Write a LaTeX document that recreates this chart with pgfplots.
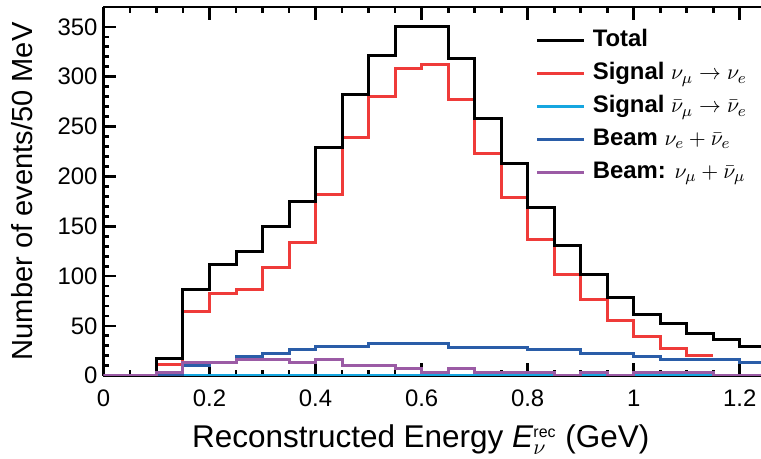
\documentclass[border=0pt]{standalone}
\usepackage{fontspec}
\setmainfont{Liberation Sans}
\usepackage{pgfplots}
\pgfplotsset{compat=1.18}
\definecolor{cTot}{RGB}{0,0,0}
\definecolor{cSig}{RGB}{239,59,57}
\definecolor{cAnti}{RGB}{22,166,224}
\definecolor{cBe}{RGB}{42,93,168}
\definecolor{cBm}{RGB}{155,91,165}
\newcommand{\lm}[1]{{\fontsize{11}{12}\selectfont$#1$}}
\begin{document}
\begin{tikzpicture}
\useasboundingbox (-51.75bp,-41.5bp) rectangle (329bp,188bp);
\begin{axis}[
  scale only axis,
  width=329bp, height=184.5bp,
  xmin=0, xmax=1.24, ymin=0, ymax=370,
  axis x line*=box, axis y line*=left,
  axis line style={line width=1.4bp},
  tick align=inside,
  every tick/.style={black, line width=1.4bp},
  major tick length=6.5bp, minor tick length=3bp,
  xtick={0,0.2,0.4,0.6,0.8,1,1.2},
  xticklabels={0,0.2,0.4,0.6,0.8,1,1.2},
  minor x tick num=3,
  ytick={0,50,100,150,200,250,300,350},
  minor y tick num=4,
  /pgf/number format/assume math mode=true,
  tick label style={font=\fontsize{12}{14}\selectfont},
  xticklabel style={yshift=-3.5bp},
  yticklabel style={xshift=0.5bp},
  xlabel={Reconstructed Energy \textit{E}$_{\nu}^{\mbox{\fontsize{8}{9}\selectfont rec}}$ (GeV)},
  ylabel={Number of events/50 MeV},
  xlabel style={font=\fontsize{15.8}{18}\selectfont, at={(axis description cs:0.4825,-0.195)}, anchor=base},
  ylabel style={font=\fontsize{14.6}{17}\selectfont, at={(axis description cs:-0.1239,0.5)}, anchor=center, rotate=0},
  legend image code/.code={\draw[#1, line width=1.5bp] (0bp,0bp) -- (23.5bp,0bp);},
  legend style={draw=none, fill=none, at={(axis description cs:0.657,0.942)}, anchor=north west,
    font=\fontsize{12}{14}\selectfont\bfseries, inner sep=0pt, row sep=4.5bp,
    nodes={inner sep=0pt, text height=9bp, text depth=3bp},
    /tikz/every even column/.append style={column sep=0bp}},
  legend cell align=left,
]
\addlegendimage{cTot}
\addlegendentry{\hspace{3.5bp}Total}
\addlegendimage{cSig}
\addlegendentry{\hspace{3.5bp}Signal \lm{\nu_\mu\rightarrow\nu_e}}
\addlegendimage{cAnti}
\addlegendentry{\hspace{3.5bp}Signal \lm{\bar{\nu}_\mu\rightarrow\bar{\nu}_e}}
\addlegendimage{cBe}
\addlegendentry{\hspace{3.5bp}Beam \lm{\nu_e+\bar{\nu}_e}}
\addlegendimage{cBm}
\addlegendentry{\hspace{3.5bp}Beam: \lm{\nu_\mu+\bar{\nu}_\mu}}

% Signal (red)
\addplot[forget plot, cSig, line width=1.5bp, const plot mark left] coordinates {
(0.1,0) (0.1,11) (0.15,64) (0.2,83) (0.25,87) (0.3,109) (0.35,134) (0.4,182) (0.45,239)
(0.5,280) (0.55,308) (0.6,312) (0.65,277) (0.7,223) (0.75,179) (0.8,137) (0.85,102)
(0.9,77) (0.95,55) (1.0,39) (1.05,27) (1.1,20) (1.15,20)};
% Total (black)
\addplot[forget plot, cTot, line width=1.5bp, const plot mark left] coordinates {
(0.1,0) (0.1,17) (0.15,87) (0.2,112) (0.25,125) (0.3,150) (0.35,175) (0.4,229) (0.45,282)
(0.5,321) (0.55,350) (0.6,350) (0.65,318) (0.7,258) (0.75,213) (0.8,169) (0.85,131)
(0.9,102) (0.95,79) (1.0,61) (1.05,52) (1.1,42) (1.15,36) (1.2,29) (1.25,29)};
% Signal anti (light blue)
\addplot[forget plot, cAnti, line width=1.5bp, const plot mark left] coordinates {
(0.15,0) (0.2,0) (0.4,0) (0.6,0) (0.8,0) (1.0,0) (1.25,0)};
% Beam nu_e (dark blue)
\addplot[forget plot, cBe, line width=1.5bp, const plot mark left] coordinates {
(0.1,0) (0.15,10) (0.2,13) (0.25,19) (0.3,22) (0.35,26) (0.4,29) (0.45,29) (0.5,32)
(0.55,32) (0.6,32) (0.65,28) (0.7,28) (0.75,28) (0.8,26) (0.85,26) (0.9,22) (0.95,22)
(1.0,19) (1.05,16) (1.1,16) (1.15,16) (1.2,13) (1.25,13)};
% Beam nu_mu (purple)
\addplot[forget plot, cBm, line width=1.5bp, const plot mark left] coordinates {
(0,0) (0.05,0) (0.1,3) (0.15,13) (0.2,13) (0.25,16) (0.3,16) (0.35,13) (0.4,16)
(0.45,10) (0.5,10) (0.55,7) (0.6,3) (0.65,7) (0.7,3) (0.75,3) (0.8,3) (0.85,0)
(0.9,3) (0.95,0) (1.0,3) (1.05,3) (1.1,3) (1.15,0) (1.2,0) (1.25,0)};
\end{axis}
\end{tikzpicture}
\end{document}
